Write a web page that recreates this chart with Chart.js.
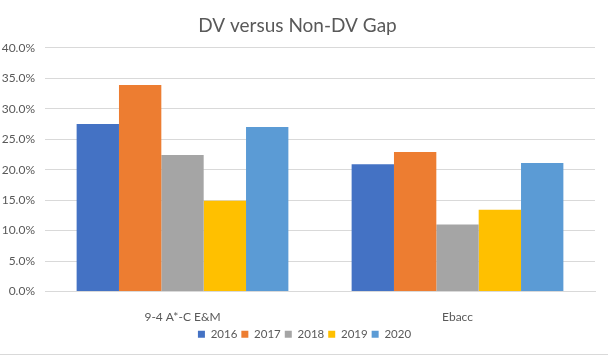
<!DOCTYPE html>
<html>
<head>
<meta charset="utf-8">
<script src="https://cdn.jsdelivr.net/npm/chart.js@4"></script>
<style>
html,body{margin:0;padding:0;background:#fff;}
#wrap{width:608px;height:354px;border-bottom:1px solid #d9d9d9;position:relative;}
canvas{display:block;}
</style>
</head>
<body>
<div id="wrap"><canvas id="c" width="608" height="354"></canvas></div>
<script>
const categories = ["9-4 A*-C E&M", "Ebacc"];
const seriesNames = ["2016", "2017", "2018", "2019", "2020"];
const v2016 = [27.5, 20.9];
const v2017 = [33.9, 22.9];
const v2018 = [22.4, 11.0];
const v2019 = [14.9, 13.4];
const v2020 = [27.0, 21.1];
const colors = ["#4472C4", "#ED7D31", "#A5A5A5", "#FFC000", "#5B9BD5"];
const yTicks = [0, 5, 10, 15, 20, 25, 30, 35, 40];

const allValues = [v2016, v2017, v2018, v2019, v2020];
const FONT = "Lato, 'Liberation Sans', sans-serif";
const TXT = "#595959";

const shiftLegend = {
  id: 'shiftLegend',
  afterLayout(chart) {
    const lg = chart.legend;
    if (lg) {
      lg.top -= 1; lg.bottom -= 1;
      lg.left += 7; lg.right += 7;
    }
  }
};

new Chart(document.getElementById('c'), {
  type: 'bar',
  data: {
    labels: categories,
    datasets: seriesNames.map((n, i) => ({
      label: n,
      data: allValues[i],
      backgroundColor: colors[i],
      borderWidth: 0,
      categoryPercentage: 0.77,
      barPercentage: 1.0
    }))
  },
  plugins: [shiftLegend],
  options: {
    responsive: false,
    animation: false,
    layout: { padding: { left: 0, right: 13, top: 0, bottom: 3 } },
    plugins: {
      title: {
        display: true,
        text: "DV versus Non-DV Gap",
        color: TXT,
        font: { family: FONT, size: 19, weight: 'normal' },
        padding: { top: 14, bottom: 11 }
      },
      legend: {
        position: 'bottom',
        labels: {
          color: TXT,
          font: { family: FONT, size: 11.5 },
          boxWidth: 7,
          boxHeight: 7,
          padding: 4
        }
      },
      tooltip: { enabled: false }
    },
    scales: {
      x: {
        grid: { display: false, drawTicks: false },
        border: { display: true, color: '#d9d9d9' },
        ticks: { color: TXT, font: { family: FONT, size: 12 }, padding: 18 },
        afterFit(scale) { scale.height = 34; }
      },
      y: {
        min: 0,
        max: 40,
        afterBuildTicks(scale) { scale.ticks = yTicks.map(v => ({ value: v })); },
        grid: { color: '#d9d9d9', drawTicks: false },
        border: { display: false },
        ticks: {
          color: TXT,
          font: { family: FONT, size: 12 },
          padding: 10,
          callback: v => v.toFixed(1) + '%'
        },
        afterFit(scale) { scale.width = 45; }
      }
    }
  }
});
</script>
</body>
</html>
